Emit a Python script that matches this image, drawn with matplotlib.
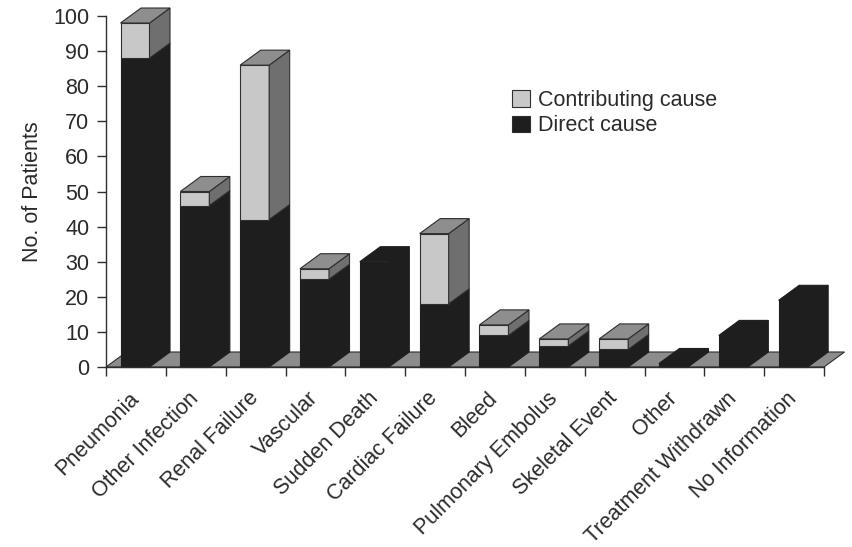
import numpy as np
import matplotlib
matplotlib.use('Agg')
import matplotlib.pyplot as plt
import matplotlib.transforms as mtransforms
from matplotlib.patches import Polygon, Patch

# Causes of death, stacked pseudo-3D bars (direct + contributing)

categories = ['Pneumonia', 'Other Infection', 'Renal Failure', 'Vascular',
              'Sudden Death', 'Cardiac Failure', 'Bleed', 'Pulmonary Embolus',
              'Skeletal Event', 'Other', 'Treatment Withdrawn', 'No Information']
direct = [88, 46, 42, 25, 30, 18, 9, 6, 5, 1, 9, 19]
contributing = [10, 4, 44, 3, 0, 20, 3, 2, 3, 0, 0, 0]
yticks = list(range(0, 101, 10))

BLACK = '#1e1e1e'
LIGHT = '#c8c8c8'
TOP = '#8e8e8e'
SIDE = '#6f6f6f'
FLOOR = '#8c8c8c'
EDGE = '#2e2e2e'
TEXT = '#2a2a2a'

plt.rcParams['font.family'] = ['Liberation Sans', 'DejaVu Sans']
FS = 15.5

fig = plt.figure(figsize=(8.52, 5.47), dpi=100)
ax = fig.add_axes([106 / 852, 1 - 367 / 547, 718 / 852, 351 / 547])

n = len(categories)
ax.set_xlim(0, n)
ax.set_ylim(0, 100)

# depth of the fake 3D, converted from pixels to data units
px_x = 718 / n
px_y = 351 / 100
dx = 20.5 / px_x
dy = 15 / px_y
off = 14.5 / px_x
w = 29 / px_x


def poly(pts, fc, z, ec=EDGE):
    p = Polygon(pts, closed=True, facecolor=fc, edgecolor=ec,
                linewidth=0.8, clip_on=False, zorder=z)
    ax.add_patch(p)


# floor
poly([(0, 0), (n, 0), (n + dx, dy), (dx, dy)], FLOOR, 2)

for i in range(n):
    d = direct[i]
    c = contributing[i]
    t = d + c
    x0 = i + off
    x1 = x0 + w
    z = 3 + i * 0.01
    # direct part: front + side, black merges into one block
    poly([(x0, 0), (x1, 0), (x1, d), (x0, d)], BLACK, z, BLACK)
    poly([(x1, 0), (x1 + dx, dy), (x1 + dx, d + dy), (x1, d)], BLACK, z, BLACK)
    if c > 0:
        poly([(x0, d), (x1, d), (x1, t), (x0, t)], LIGHT, z)
        poly([(x1, d), (x1 + dx, d + dy), (x1 + dx, t + dy), (x1, t)], SIDE, z)
        poly([(x0, t), (x1, t), (x1 + dx, t + dy), (x0 + dx, t + dy)], TOP, z)
    else:
        poly([(x0, t), (x1, t), (x1 + dx, t + dy), (x0 + dx, t + dy)],
             BLACK, z, BLACK)

# axes styling
for s in ['top', 'right']:
    ax.spines[s].set_visible(False)
for s in ['left', 'bottom']:
    ax.spines[s].set_color(EDGE)
    ax.spines[s].set_linewidth(1.0)
    ax.spines[s].set_zorder(5)

ax.set_yticks(yticks)
ax.set_yticklabels([str(v) for v in yticks])
ax.tick_params(axis='y', direction='out', length=6.5, width=1.0,
               color=EDGE, labelsize=FS, labelcolor=TEXT, pad=5.5)

ax.set_xticks(np.arange(n + 1))
ax.set_xticklabels([])
ax.tick_params(axis='x', which='major', direction='out', length=6.5,
               width=1.0, color=EDGE)
ax.set_xticks(np.arange(n) + 0.5, minor=True)
ax.set_xticklabels(categories, minor=True, rotation=45, ha='right',
                   fontsize=FS, color=TEXT)
ax.tick_params(axis='x', which='minor', length=0, pad=15)
shift = mtransforms.ScaledTranslation(7 / 100, 0, fig.dpi_scale_trans)
for lab in ax.get_xticklabels(minor=True):
    lab.set_transform(lab.get_transform() + shift)

ax.set_ylabel('No. of Patients', fontsize=FS, color=TEXT, labelpad=7)

handles = [Patch(facecolor=LIGHT, edgecolor=EDGE, linewidth=0.8),
           Patch(facecolor=BLACK, edgecolor=EDGE, linewidth=0.8)]
ax.legend(handles, ['Contributing cause', 'Direct cause'],
          loc='upper left', bbox_to_anchor=(512 / 852, 1 - 90 / 547),
          bbox_transform=fig.transFigure, frameon=False, fontsize=FS,
          labelcolor=TEXT, handlelength=0.85, handleheight=0.8,
          handletextpad=0.35, labelspacing=0.2, borderpad=0,
          borderaxespad=0)

fig.savefig('out.png', dpi=100)
